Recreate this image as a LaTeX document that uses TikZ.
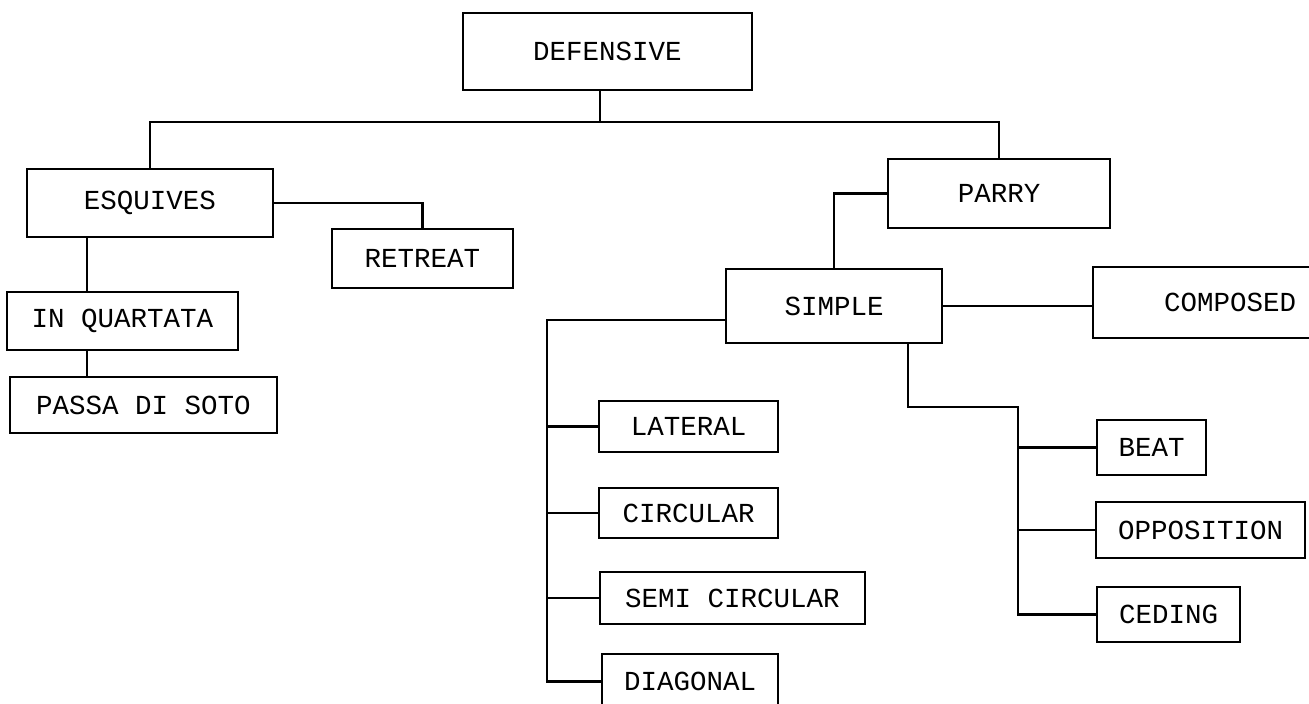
\documentclass[tikz,border=0pt]{standalone}
\usepackage{fontspec}
\newfontfamily\typewriter{Liberation Mono}
\tikzset{
  box/.style={draw, line width=1.1pt, inner sep=0pt, font=\typewriter\fontsize{13.75}{15}\selectfont},
  link/.style={line width=1.1pt}
}
\begin{document}
\begin{tikzpicture}[x=0.5pt, y=-0.5pt]
\useasboundingbox (0,0) rectangle (1309,704);
\clip (0,0) rectangle (1309,704);
\node[box, minimum width=144.5pt, minimum height=38.5pt] (defensive) at (607.5,51.5){DEFENSIVE};
\node[box, minimum width=123pt, minimum height=34pt] (esquives) at (150,203){ESQUIVES};
\node[box, minimum width=90.5pt, minimum height=29.5pt] (retreat) at (422.5,258.5){RETREAT};
\node[box, minimum width=115.5pt, minimum height=29pt] (inquartata) at (122.5,321){IN QUARTATA};
\node[box, minimum width=133.5pt, minimum height=28pt] (passa) at (143.5,405){PASSA DI SOTO};
\node[box, minimum width=111pt, minimum height=34.5pt] (parry) at (999,193.5){PARRY};
\node[box, minimum width=108pt, minimum height=37pt] (simple) at (834,306){SIMPLE};
\node[box, minimum width=137pt, minimum height=35.5pt] (composed) at (1230,302.5){COMPOSED};
\node[box, minimum width=89.5pt, minimum height=25.5pt] (lateral) at (688.5,426.5){LATERAL};
\node[box, minimum width=89.5pt, minimum height=25pt] (circular) at (688.5,513){CIRCULAR};
\node[box, minimum width=132.5pt, minimum height=26pt] (semicircular) at (732.5,598){SEMI CIRCULAR};
\node[box, minimum width=88pt, minimum height=27.5pt] (diagonal) at (690,681.5){DIAGONAL};
\node[box, minimum width=54.5pt, minimum height=27.5pt] (beat) at (1151.5,447.5){BEAT};
\node[box, minimum width=104.5pt, minimum height=28pt] (opposition) at (1200.5,530){OPPOSITION};
\node[box, minimum width=71.5pt, minimum height=27.5pt] (ceding) at (1168.5,614.5){CEDING};
\coordinate (hub) at (600,122);
\coordinate (qdrop) at (87,0);
\coordinate (lbus) at (547,320);
\coordinate (rdrop) at (908,407);
\coordinate (rbus) at (1018,407);
\draw[link](defensive.south -| hub) -- (hub);
\draw[link](esquives.north) |- (hub) -| (parry.north);
\draw[link](esquives.east) -| (retreat.north);
\draw[link](esquives.south -| qdrop) -- (inquartata.north -| qdrop);
\draw[link](inquartata.south -| qdrop) -- (passa.north -| qdrop);
\draw[link](parry.west) -| (simple.north);
\draw[link](simple.east) -- (simple.east -| composed.west);
\draw[link](simple.west |- lbus) -- (lbus) |- (diagonal.west);
\draw[link](lbus |- lateral) -- (lateral.west);
\draw[link](lbus |- circular) -- (circular.west);
\draw[link](lbus |- semicircular) -- (semicircular.west);
\draw[link](simple.south -| rdrop) -- (rdrop) -- (rbus) |- (ceding.west);
\draw[link](rbus |- beat) -- (beat.west);
\draw[link](rbus |- opposition) -- (opposition.west);
\end{tikzpicture}
\end{document}
